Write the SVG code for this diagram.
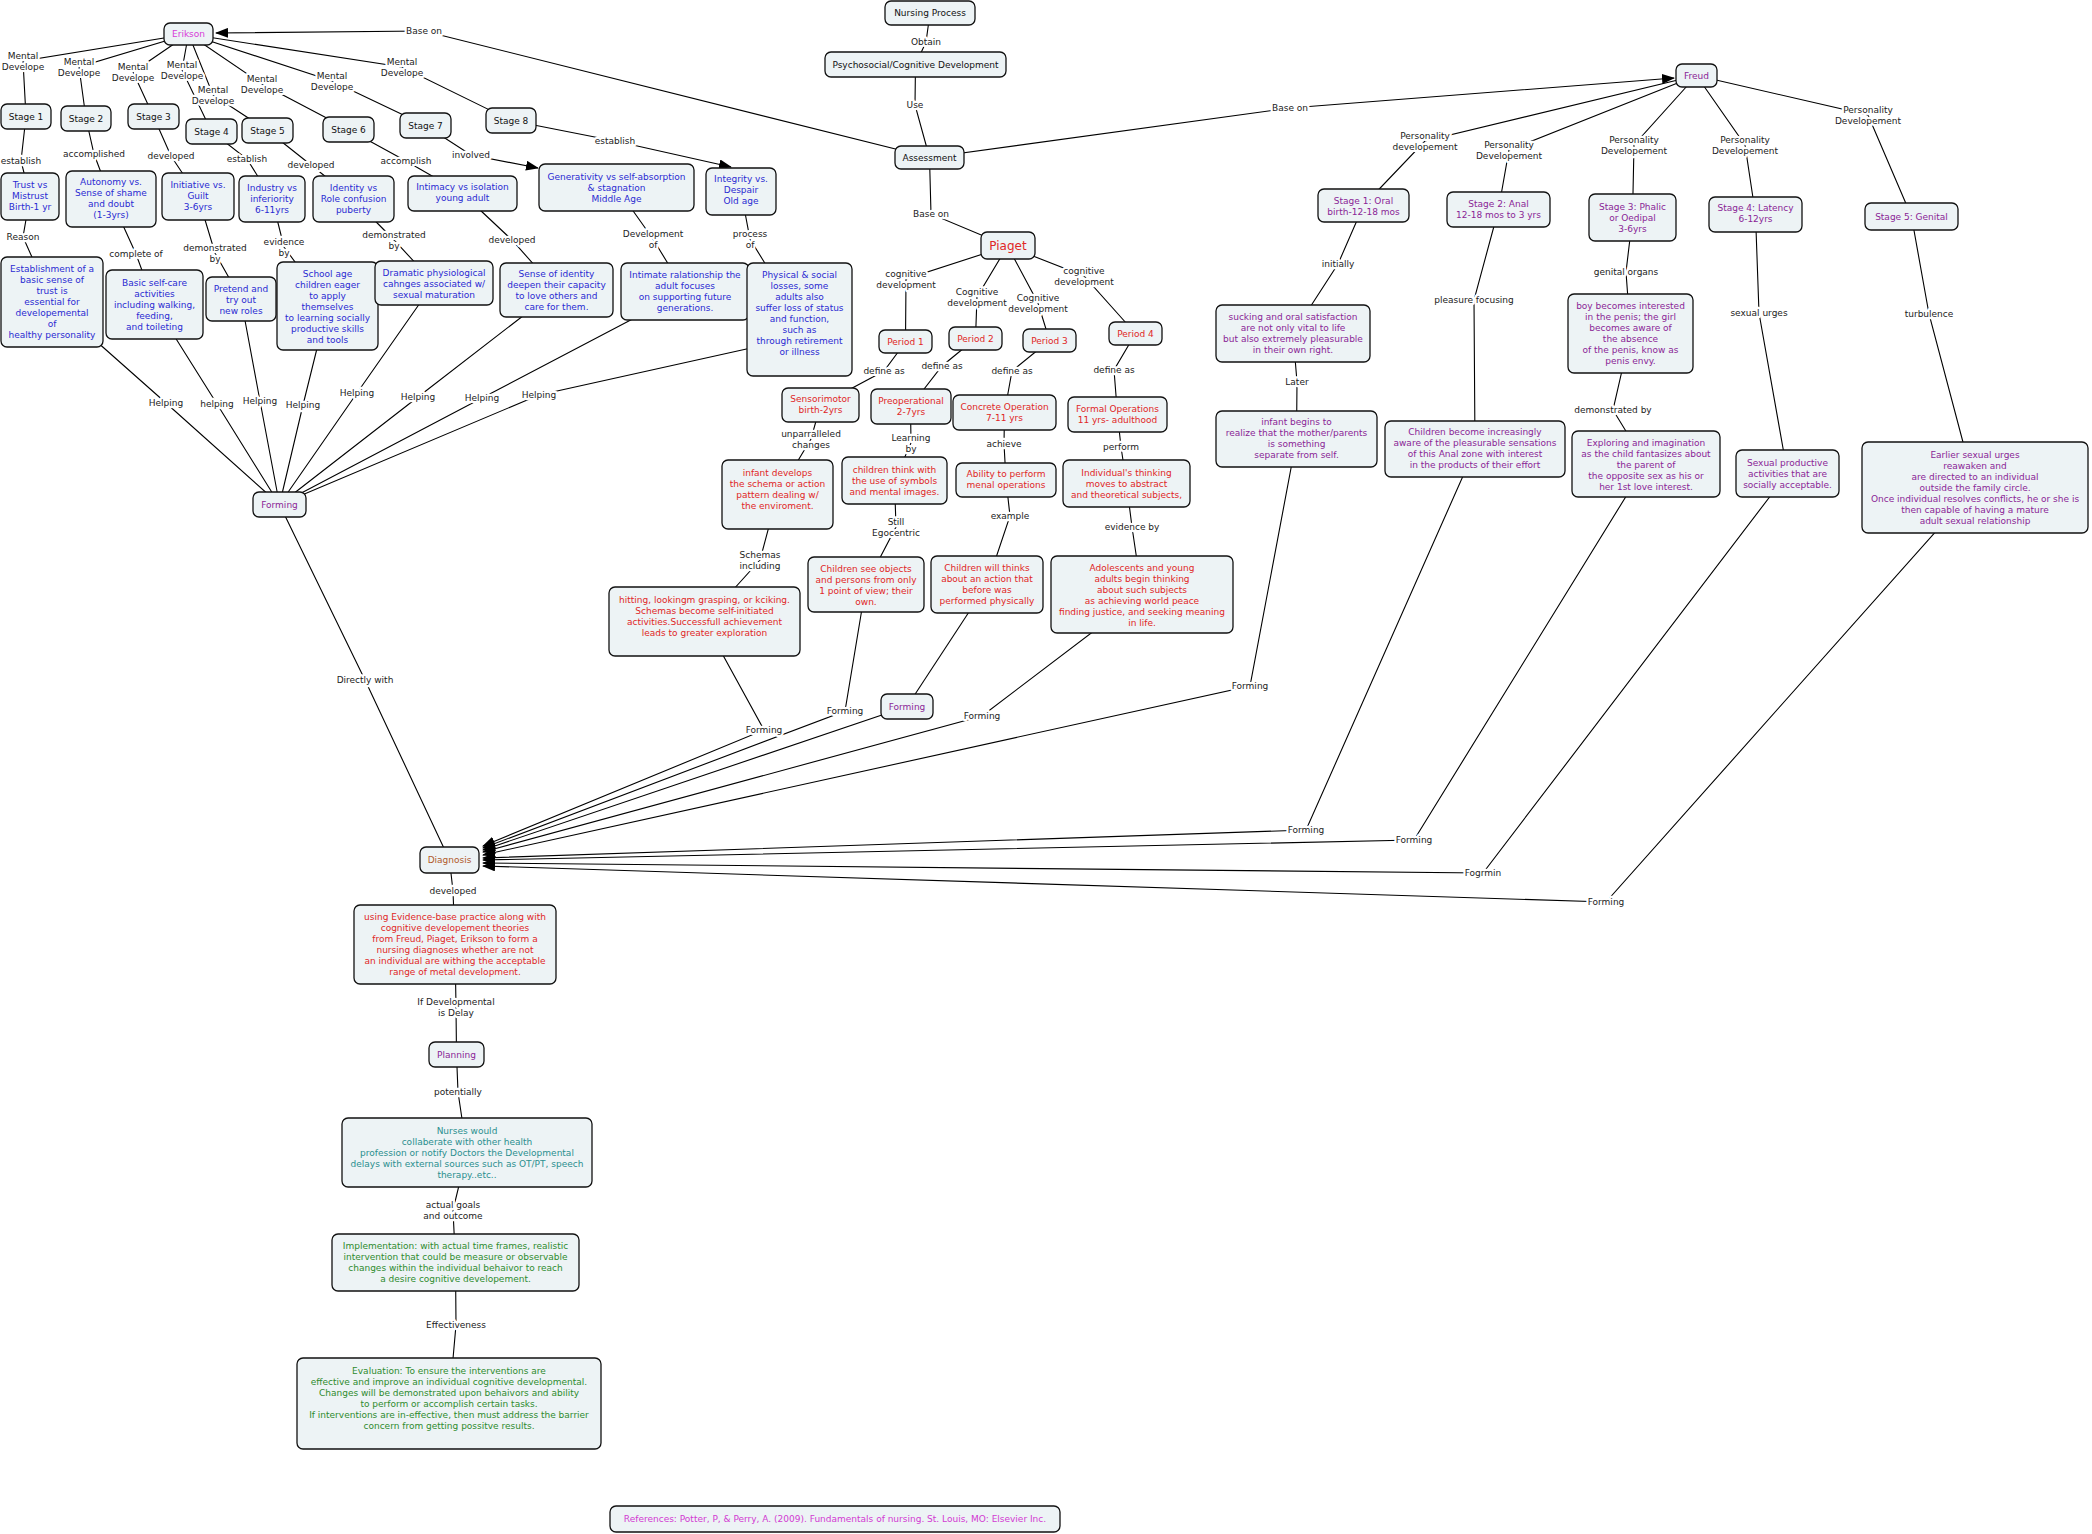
<svg xmlns="http://www.w3.org/2000/svg" width="2092" height="1534" viewBox="0 0 2092 1534">
<defs>
<style>
.c polyline{fill:none;stroke:#000;stroke-width:1.1}
.n rect{fill:#edf3f5;stroke:#111;stroke-width:1.3}
text{font-family:"DejaVu Sans",Verdana,"Liberation Sans",sans-serif;font-size:9px;text-anchor:middle}
.lb text{fill:#222;stroke:#fff;stroke-width:4.5;stroke-linejoin:round;paint-order:stroke}
.k{fill:#111}.er{fill:#d83ad8}.eb{fill:#2a2ad2}.pr{fill:#e02626}.fp{fill:#8a2596}.br{fill:#b05a2a}.tl{fill:#2b8f8f}.gr{fill:#2e8b2e}.mg{fill:#d23ad2}
</style>
<marker id="ah" markerWidth="13" markerHeight="10" refX="12" refY="5" orient="auto" markerUnits="userSpaceOnUse"><path d="M0,0 L13,5 L0,10 z" fill="#000"/></marker>
</defs>
<rect width="2092" height="1534" fill="#fff"/>
<g id="connectors" class="c">
<polyline points="188.5,34 23,61 26,116.5"/>
<polyline points="188.5,34 79,67 86,118.5"/>
<polyline points="188.5,34 133,72 153.5,116.5"/>
<polyline points="188.5,34 182,70 211.5,131.5"/>
<polyline points="188.5,34 213,95 267.5,130.5"/>
<polyline points="188.5,34 262,84 348.5,129.5"/>
<polyline points="188.5,34 332,81 425.5,125.5"/>
<polyline points="188.5,34 402,67 511,120.5"/>
<polyline points="26,116.5 21,161 30,196.5"/>
<polyline points="86,118.5 94,154 111,199"/>
<polyline points="153.5,116.5 171,156 198,196.5"/>
<polyline points="211.5,131.5 247,159 272,199"/>
<polyline points="267.5,130.5 311,165 353.5,199"/>
<polyline points="348.5,129.5 406,161 462.5,193.5"/>
<polyline points="425.5,125.5 471,155 538,168" marker-end="url(#ah)"/>
<polyline points="511,120.5 615,141 731,167" marker-end="url(#ah)"/>
<polyline points="30,196.5 23,237 52,302"/>
<polyline points="111,199 136,254 154.5,304.5"/>
<polyline points="198,196.5 215,253 241,299"/>
<polyline points="272,199 284,247 327.5,306"/>
<polyline points="353.5,199 394,240 434,283"/>
<polyline points="462.5,193.5 512,240 556.5,290"/>
<polyline points="616.5,187.5 653,239 685,291.5"/>
<polyline points="741,191.5 750,239 799.5,319.5"/>
<polyline points="52,302 166,403 279.5,504.5"/>
<polyline points="154.5,304.5 217,404 279.5,504.5"/>
<polyline points="241,299 260,401 279.5,504.5"/>
<polyline points="327.5,306 303,405 279.5,504.5"/>
<polyline points="434,283 357,393 279.5,504.5"/>
<polyline points="556.5,290 418,397 279.5,504.5"/>
<polyline points="685,291.5 482,398 279.5,504.5"/>
<polyline points="760,346 539,395 279.5,504.5"/>
<polyline points="279.5,504.5 365,680 449.5,860"/>
<polyline points="930,13 926,42 915.5,64.5"/>
<polyline points="915.5,64.5 915,105 929.5,157.5"/>
<polyline points="929.5,157.5 424,31 216,33" marker-end="url(#ah)"/>
<polyline points="929.5,157.5 1290,108 1674,78" marker-end="url(#ah)"/>
<polyline points="929.5,157.5 931,214 1007.5,246"/>
<polyline points="1007.5,246 906,279 905.5,342"/>
<polyline points="1007.5,246 977,297 975.5,338.5"/>
<polyline points="1007.5,246 1038,303 1049.5,340.5"/>
<polyline points="1007.5,246 1084,276 1135.5,333.5"/>
<polyline points="905.5,342 884,371 820.5,405"/>
<polyline points="975.5,338.5 942,366 910.5,406.5"/>
<polyline points="1049.5,340.5 1012,371 1004.5,412.5"/>
<polyline points="1135.5,333.5 1114,370 1117.5,414.5"/>
<polyline points="820.5,405 811,439 777.5,494.5"/>
<polyline points="910.5,406.5 911,443 894.5,480.5"/>
<polyline points="1004.5,412.5 1004,444 1006,480"/>
<polyline points="1117.5,414.5 1121,447 1126.5,483.5"/>
<polyline points="777.5,494.5 760,560 704.5,621.5"/>
<polyline points="894.5,480.5 896,527 866,584.5"/>
<polyline points="1006,480 1010,516 987,584.5"/>
<polyline points="1126.5,483.5 1132,527 1142,594.5"/>
<polyline points="704.5,621.5 764,730 483,846" marker-end="url(#ah)"/>
<polyline points="866,584.5 845,711 483,848" marker-end="url(#ah)"/>
<polyline points="987,584.5 907,706.5"/>
<polyline points="907,706.5 483,850" marker-end="url(#ah)"/>
<polyline points="1142,594.5 982,716 483,852" marker-end="url(#ah)"/>
<polyline points="1696.5,75.5 1425,141 1363.5,205.5"/>
<polyline points="1696.5,75.5 1509,150 1498.5,209.5"/>
<polyline points="1696.5,75.5 1634,145 1632.5,217.5"/>
<polyline points="1696.5,75.5 1745,145 1755.5,214.5"/>
<polyline points="1696.5,75.5 1868,115 1911.5,216.5"/>
<polyline points="1363.5,205.5 1338,264 1293,333.5"/>
<polyline points="1293,333.5 1297,382 1296.5,439"/>
<polyline points="1498.5,209.5 1474,300 1475,449"/>
<polyline points="1632.5,217.5 1626,272 1630.5,333.5"/>
<polyline points="1630.5,333.5 1613,410 1646,464"/>
<polyline points="1755.5,214.5 1759,313 1787.5,473.5"/>
<polyline points="1911.5,216.5 1929,314 1975,487.5"/>
<polyline points="1296.5,439 1250,686 483,855" marker-end="url(#ah)"/>
<polyline points="1475,449 1306,830 483,858" marker-end="url(#ah)"/>
<polyline points="1646,464 1414,840 483,860" marker-end="url(#ah)"/>
<polyline points="1787.5,473.5 1483,873 483,863" marker-end="url(#ah)"/>
<polyline points="1975,487.5 1606,902 483,866" marker-end="url(#ah)"/>
<polyline points="449.5,860 453,891 455,944.5"/>
<polyline points="455,944.5 456,1007 456.5,1054.5"/>
<polyline points="456.5,1054.5 458,1092 467,1152.5"/>
<polyline points="467,1152.5 453,1210 455.5,1262.5"/>
<polyline points="455.5,1262.5 456,1325 449,1403.5"/>
</g>
<g id="labels" class="lb">
<text x="23" y="58.5">Mental<tspan x="23" dy="11">Develope</tspan></text>
<text x="79" y="64.5">Mental<tspan x="79" dy="11">Develope</tspan></text>
<text x="133" y="69.5">Mental<tspan x="133" dy="11">Develope</tspan></text>
<text x="182" y="67.5">Mental<tspan x="182" dy="11">Develope</tspan></text>
<text x="213" y="92.5">Mental<tspan x="213" dy="11">Develope</tspan></text>
<text x="262" y="81.5">Mental<tspan x="262" dy="11">Develope</tspan></text>
<text x="332" y="78.5">Mental<tspan x="332" dy="11">Develope</tspan></text>
<text x="402" y="64.5">Mental<tspan x="402" dy="11">Develope</tspan></text>
<text x="21" y="164">establish</text>
<text x="94" y="157">accomplished</text>
<text x="171" y="159">developed</text>
<text x="247" y="162">establish</text>
<text x="311" y="168">developed</text>
<text x="406" y="164">accomplish</text>
<text x="471" y="158">involved</text>
<text x="615" y="144">establish</text>
<text x="23" y="240">Reason</text>
<text x="136" y="257">complete of</text>
<text x="215" y="250.5">demonstrated<tspan x="215" dy="11">by</tspan></text>
<text x="284" y="244.5">evidence<tspan x="284" dy="11">by</tspan></text>
<text x="394" y="237.5">demonstrated<tspan x="394" dy="11">by</tspan></text>
<text x="512" y="243">developed</text>
<text x="653" y="236.5">Development<tspan x="653" dy="11">of</tspan></text>
<text x="750" y="236.5">process<tspan x="750" dy="11">of</tspan></text>
<text x="166" y="406">Helping</text>
<text x="217" y="407">helping</text>
<text x="260" y="404">Helping</text>
<text x="303" y="408">Helping</text>
<text x="357" y="396">Helping</text>
<text x="418" y="400">Helping</text>
<text x="482" y="401">Helping</text>
<text x="539" y="398">Helping</text>
<text x="365" y="683">Directly with</text>
<text x="926" y="45">Obtain</text>
<text x="915" y="108">Use</text>
<text x="424" y="34">Base on</text>
<text x="1290" y="111">Base on</text>
<text x="931" y="217">Base on</text>
<text x="906" y="276.5">cognitive<tspan x="906" dy="11">development</tspan></text>
<text x="977" y="294.5">Cognitive<tspan x="977" dy="11">development</tspan></text>
<text x="1038" y="300.5">Cognitive<tspan x="1038" dy="11">development</tspan></text>
<text x="1084" y="273.5">cognitive<tspan x="1084" dy="11">development</tspan></text>
<text x="884" y="374">define as</text>
<text x="942" y="369">define as</text>
<text x="1012" y="374">define as</text>
<text x="1114" y="373">define as</text>
<text x="811" y="436.5">unparralleled<tspan x="811" dy="11">changes</tspan></text>
<text x="911" y="440.5">Learning<tspan x="911" dy="11">by</tspan></text>
<text x="1004" y="447">achieve</text>
<text x="1121" y="450">perform</text>
<text x="760" y="557.5">Schemas<tspan x="760" dy="11">including</tspan></text>
<text x="896" y="524.5">Still<tspan x="896" dy="11">Egocentric</tspan></text>
<text x="1010" y="519">example</text>
<text x="1132" y="530">evidence by</text>
<text x="764" y="733">Forming</text>
<text x="845" y="714">Forming</text>
<text x="982" y="719">Forming</text>
<text x="1425" y="138.5">Personality<tspan x="1425" dy="11">developement</tspan></text>
<text x="1509" y="147.5">Personality<tspan x="1509" dy="11">Developement</tspan></text>
<text x="1634" y="142.5">Personality<tspan x="1634" dy="11">Developement</tspan></text>
<text x="1745" y="142.5">Personality<tspan x="1745" dy="11">Developement</tspan></text>
<text x="1868" y="112.5">Personality<tspan x="1868" dy="11">Developement</tspan></text>
<text x="1338" y="267">initially</text>
<text x="1297" y="385">Later</text>
<text x="1474" y="303">pleasure focusing</text>
<text x="1626" y="275">genital organs</text>
<text x="1613" y="413">demonstrated by</text>
<text x="1759" y="316">sexual urges</text>
<text x="1929" y="317">turbulence</text>
<text x="1250" y="689">Forming</text>
<text x="1306" y="833">Forming</text>
<text x="1414" y="843">Forming</text>
<text x="1483" y="876">Fogrmin</text>
<text x="1606" y="905">Forming</text>
<text x="453" y="894">developed</text>
<text x="456" y="1004.5">If Developmental<tspan x="456" dy="11">is Delay</tspan></text>
<text x="458" y="1095">potentially</text>
<text x="453" y="1207.5">actual goals<tspan x="453" dy="11">and outcome</tspan></text>
<text x="456" y="1328">Effectiveness</text>
</g>
<g class="n">
<g id="erikson"><rect x="164" y="23" width="49" height="22" rx="6"/><text class="er" x="188.5" y="37">Erikson</text></g>
<g id="stage1"><rect x="1" y="104" width="50" height="25" rx="6"/><text class="k" x="26" y="119.5">Stage 1</text></g>
<g id="stage2"><rect x="61" y="106" width="50" height="25" rx="6"/><text class="k" x="86" y="121.5">Stage 2</text></g>
<g id="stage3"><rect x="128" y="104" width="51" height="25" rx="6"/><text class="k" x="153.5" y="119.5">Stage 3</text></g>
<g id="stage4"><rect x="186" y="119" width="51" height="25" rx="6"/><text class="k" x="211.5" y="134.5">Stage 4</text></g>
<g id="stage5"><rect x="242" y="118" width="51" height="25" rx="6"/><text class="k" x="267.5" y="133.5">Stage 5</text></g>
<g id="stage6"><rect x="323" y="117" width="51" height="25" rx="6"/><text class="k" x="348.5" y="132.5">Stage 6</text></g>
<g id="stage7"><rect x="400" y="113" width="51" height="25" rx="6"/><text class="k" x="425.5" y="128.5">Stage 7</text></g>
<g id="stage8"><rect x="486" y="108" width="50" height="25" rx="6"/><text class="k" x="511" y="123.5">Stage 8</text></g>
<g id="trust"><rect x="1" y="173" width="58" height="47" rx="6"/><text class="eb" x="30" y="188">Trust vs<tspan x="30" dy="11">Mistrust</tspan><tspan x="30" dy="11">Birth-1 yr</tspan></text></g>
<g id="autonomy"><rect x="66" y="171" width="90" height="56" rx="6"/><text class="eb" x="111" y="185">Autonomy vs.<tspan x="111" dy="11">Sense of shame</tspan><tspan x="111" dy="11">and doubt</tspan><tspan x="111" dy="11">(1-3yrs)</tspan></text></g>
<g id="initiative"><rect x="162" y="173" width="72" height="47" rx="6"/><text class="eb" x="198" y="188">Initiative vs.<tspan x="198" dy="11">Guilt</tspan><tspan x="198" dy="11">3-6yrs</tspan></text></g>
<g id="industry"><rect x="239" y="176" width="66" height="46" rx="6"/><text class="eb" x="272" y="191">Industry vs<tspan x="272" dy="11">inferiority</tspan><tspan x="272" dy="11">6-11yrs</tspan></text></g>
<g id="identity"><rect x="313" y="176" width="81" height="46" rx="6"/><text class="eb" x="353.5" y="191">Identity vs<tspan x="353.5" dy="11">Role confusion</tspan><tspan x="353.5" dy="11">puberty</tspan></text></g>
<g id="intimacy"><rect x="408" y="176" width="109" height="35" rx="6"/><text class="eb" x="462.5" y="190">Intimacy vs isolation<tspan x="462.5" dy="11">young adult</tspan></text></g>
<g id="generativity"><rect x="539" y="164" width="155" height="47" rx="6"/><text class="eb" x="616.5" y="180">Generativity vs self-absorption<tspan x="616.5" dy="11">&amp; stagnation</tspan><tspan x="616.5" dy="11">Middle Age</tspan></text></g>
<g id="integrity"><rect x="706" y="168" width="70" height="47" rx="6"/><text class="eb" x="741" y="182">Integrity vs.<tspan x="741" dy="11">Despair</tspan><tspan x="741" dy="11">Old age</tspan></text></g>
<g id="establishment"><rect x="1" y="257" width="102" height="90" rx="6"/><text class="eb" x="52" y="272">Establishment of a<tspan x="52" dy="11">basic sense of</tspan><tspan x="52" dy="11">trust is</tspan><tspan x="52" dy="11">essential for</tspan><tspan x="52" dy="11">developemental</tspan><tspan x="52" dy="11">of</tspan><tspan x="52" dy="11">healthy personality</tspan></text></g>
<g id="selfcare"><rect x="106" y="270" width="97" height="69" rx="6"/><text class="eb" x="154.5" y="286">Basic self-care<tspan x="154.5" dy="11">activities</tspan><tspan x="154.5" dy="11">including walking,</tspan><tspan x="154.5" dy="11">feeding,</tspan><tspan x="154.5" dy="11">and toileting</tspan></text></g>
<g id="pretend"><rect x="206" y="277" width="70" height="44" rx="6"/><text class="eb" x="241" y="292">Pretend and<tspan x="241" dy="11">try out</tspan><tspan x="241" dy="11">new roles</tspan></text></g>
<g id="schoolage"><rect x="277" y="262" width="101" height="88" rx="6"/><text class="eb" x="327.5" y="277">School age<tspan x="327.5" dy="11">children eager</tspan><tspan x="327.5" dy="11">to apply</tspan><tspan x="327.5" dy="11">themselves</tspan><tspan x="327.5" dy="11">to learning socially</tspan><tspan x="327.5" dy="11">productive skills</tspan><tspan x="327.5" dy="11">and tools</tspan></text></g>
<g id="dramatic"><rect x="375" y="261" width="118" height="44" rx="6"/><text class="eb" x="434" y="276">Dramatic physiological<tspan x="434" dy="11">cahnges associated w/</tspan><tspan x="434" dy="11">sexual maturation</tspan></text></g>
<g id="senseidentity"><rect x="500" y="263" width="113" height="54" rx="6"/><text class="eb" x="556.5" y="277">Sense of identity<tspan x="556.5" dy="11">deepen their capacity</tspan><tspan x="556.5" dy="11">to love others and</tspan><tspan x="556.5" dy="11">care for them.</tspan></text></g>
<g id="intimate"><rect x="621" y="263" width="128" height="57" rx="6"/><text class="eb" x="685" y="278">Intimate ralationship the<tspan x="685" dy="11">adult focuses</tspan><tspan x="685" dy="11">on supporting future</tspan><tspan x="685" dy="11">generations.</tspan></text></g>
<g id="physical"><rect x="747" y="263" width="105" height="113" rx="6"/><text class="eb" x="799.5" y="278">Physical &amp; social<tspan x="799.5" dy="11">losses, some</tspan><tspan x="799.5" dy="11">adults also</tspan><tspan x="799.5" dy="11">suffer loss of status</tspan><tspan x="799.5" dy="11">and function,</tspan><tspan x="799.5" dy="11">such as</tspan><tspan x="799.5" dy="11">through retirement</tspan><tspan x="799.5" dy="11">or illness</tspan></text></g>
<g id="forming-erikson"><rect x="253" y="492" width="53" height="25" rx="6"/><text class="fp" x="279.5" y="507.5">Forming</text></g>
<g id="nursing"><rect x="885" y="1" width="90" height="24" rx="6"/><text class="k" x="930" y="16">Nursing Process</text></g>
<g id="psychosocial"><rect x="825" y="52" width="181" height="25" rx="6"/><text class="k" x="915.5" y="67.5">Psychosocial/Cognitive Development</text></g>
<g id="assessment"><rect x="895" y="146" width="69" height="23" rx="6"/><text class="k" x="929.5" y="160.5">Assessment</text></g>
<g id="piaget"><rect x="981" y="232" width="54" height="27" rx="6"/><text class="pr" x="1008" y="250" style="font-size:12px">Piaget</text></g>
<g id="period1"><rect x="879" y="330" width="53" height="23" rx="6"/><text class="pr" x="905.5" y="344.5">Period 1</text></g>
<g id="period2"><rect x="949" y="327" width="53" height="23" rx="6"/><text class="pr" x="975.5" y="341.5">Period 2</text></g>
<g id="period3"><rect x="1023" y="329" width="53" height="23" rx="6"/><text class="pr" x="1049.5" y="343.5">Period 3</text></g>
<g id="period4"><rect x="1109" y="322" width="53" height="23" rx="6"/><text class="pr" x="1135.5" y="336.5">Period 4</text></g>
<g id="sensorimotor"><rect x="782" y="388" width="77" height="34" rx="6"/><text class="pr" x="820.5" y="402">Sensorimotor<tspan x="820.5" dy="11">birth-2yrs</tspan></text></g>
<g id="preoperational"><rect x="871" y="389" width="80" height="35" rx="6"/><text class="pr" x="911" y="404">Preoperational<tspan x="911" dy="11">2-7yrs</tspan></text></g>
<g id="concrete"><rect x="953" y="395" width="103" height="35" rx="6"/><text class="pr" x="1004.5" y="410">Concrete Operation<tspan x="1004.5" dy="11">7-11 yrs</tspan></text></g>
<g id="formal"><rect x="1068" y="397" width="99" height="35" rx="6"/><text class="pr" x="1117.5" y="412">Formal Operations<tspan x="1117.5" dy="11">11 yrs- adulthood</tspan></text></g>
<g id="infantdevelops"><rect x="722" y="460" width="111" height="69" rx="6"/><text class="pr" x="777.5" y="476">infant develops<tspan x="777.5" dy="11">the schema or action</tspan><tspan x="777.5" dy="11">pattern dealing w/</tspan><tspan x="777.5" dy="11">the enviroment.</tspan></text></g>
<g id="childrenthink"><rect x="842" y="457" width="105" height="47" rx="6"/><text class="pr" x="894.5" y="473">children think with<tspan x="894.5" dy="11">the use of symbols</tspan><tspan x="894.5" dy="11">and mental images.</tspan></text></g>
<g id="ability"><rect x="956" y="463" width="100" height="34" rx="6"/><text class="pr" x="1006" y="477">Ability  to perform<tspan x="1006" dy="11">menal operations</tspan></text></g>
<g id="individual"><rect x="1063" y="460" width="127" height="47" rx="6"/><text class="pr" x="1126.5" y="476">Individual's thinking<tspan x="1126.5" dy="11">moves to abstract</tspan><tspan x="1126.5" dy="11">and theoretical subjects,</tspan></text></g>
<g id="hitting"><rect x="609" y="587" width="191" height="69" rx="6"/><text class="pr" x="704.5" y="603">hitting, lookingm grasping, or kciking.<tspan x="704.5" dy="11">Schemas become self-initiated</tspan><tspan x="704.5" dy="11">activities.Successfull achievement</tspan><tspan x="704.5" dy="11">leads to greater exploration</tspan></text></g>
<g id="childrensee"><rect x="808" y="557" width="116" height="55" rx="6"/><text class="pr" x="866" y="572">Children see objects<tspan x="866" dy="11">and persons from only</tspan><tspan x="866" dy="11">1 point of view; their</tspan><tspan x="866" dy="11">own.</tspan></text></g>
<g id="childrenwill"><rect x="931" y="556" width="112" height="57" rx="6"/><text class="pr" x="987" y="571">Children will thinks<tspan x="987" dy="11">about an action that</tspan><tspan x="987" dy="11">before was</tspan><tspan x="987" dy="11">performed physically</tspan></text></g>
<g id="adolescents"><rect x="1051" y="556" width="182" height="77" rx="6"/><text class="pr" x="1142" y="571">Adolescents and young<tspan x="1142" dy="11">adults begin thinking</tspan><tspan x="1142" dy="11">about such subjects</tspan><tspan x="1142" dy="11">as achieving world peace</tspan><tspan x="1142" dy="11">finding justice, and seeking meaning</tspan><tspan x="1142" dy="11">in life.</tspan></text></g>
<g id="forming-piaget"><rect x="881" y="694" width="52" height="25" rx="6"/><text class="fp" x="907" y="709.5">Forming</text></g>
<g id="freud"><rect x="1676" y="64" width="41" height="23" rx="6"/><text class="fp" x="1696.5" y="78.5">Freud</text></g>
<g id="oral"><rect x="1318" y="189" width="91" height="33" rx="6"/><text class="fp" x="1363.5" y="204">Stage 1: Oral<tspan x="1363.5" dy="11">birth-12-18 mos</tspan></text></g>
<g id="anal"><rect x="1447" y="192" width="103" height="35" rx="6"/><text class="fp" x="1498.5" y="207">Stage 2: Anal<tspan x="1498.5" dy="11">12-18 mos to 3 yrs</tspan></text></g>
<g id="phalic"><rect x="1589" y="194" width="87" height="47" rx="6"/><text class="fp" x="1632.5" y="210">Stage 3: Phalic<tspan x="1632.5" dy="11">or Oedipal</tspan><tspan x="1632.5" dy="11">3-6yrs</tspan></text></g>
<g id="latency"><rect x="1709" y="197" width="93" height="35" rx="6"/><text class="fp" x="1755.5" y="211">Stage 4: Latency<tspan x="1755.5" dy="11">6-12yrs</tspan></text></g>
<g id="genital"><rect x="1865" y="203" width="93" height="27" rx="6"/><text class="fp" x="1911.5" y="219.5">Stage 5: Genital</text></g>
<g id="sucking"><rect x="1216" y="305" width="154" height="57" rx="6"/><text class="fp" x="1293" y="320">sucking and oral satisfaction<tspan x="1293" dy="11">are not only vital to life</tspan><tspan x="1293" dy="11">but also extremely pleasurable</tspan><tspan x="1293" dy="11">in their own right.</tspan></text></g>
<g id="infantbegins"><rect x="1216" y="411" width="161" height="56" rx="6"/><text class="fp" x="1296.5" y="425">infant begins to<tspan x="1296.5" dy="11">realize that the mother/parents</tspan><tspan x="1296.5" dy="11">is something</tspan><tspan x="1296.5" dy="11">separate from self.</tspan></text></g>
<g id="childrenbecome"><rect x="1385" y="421" width="180" height="56" rx="6"/><text class="fp" x="1475" y="435">Children become increasingly<tspan x="1475" dy="11">aware of the pleasurable sensations</tspan><tspan x="1475" dy="11">of this Anal zone with interest</tspan><tspan x="1475" dy="11">in the products of their effort</tspan></text></g>
<g id="boybecomes"><rect x="1568" y="294" width="125" height="79" rx="6"/><text class="fp" x="1630.5" y="309">boy becomes interested<tspan x="1630.5" dy="11">in the penis; the girl</tspan><tspan x="1630.5" dy="11">becomes aware of</tspan><tspan x="1630.5" dy="11">the absence</tspan><tspan x="1630.5" dy="11">of the penis, know as</tspan><tspan x="1630.5" dy="11">penis envy.</tspan></text></g>
<g id="exploring"><rect x="1572" y="431" width="148" height="66" rx="6"/><text class="fp" x="1646" y="446">Exploring and imagination<tspan x="1646" dy="11">as the child fantasizes about</tspan><tspan x="1646" dy="11">the parent of</tspan><tspan x="1646" dy="11">the opposite sex as his or</tspan><tspan x="1646" dy="11">her 1st love interest.</tspan></text></g>
<g id="sexualproductive"><rect x="1736" y="450" width="103" height="47" rx="6"/><text class="fp" x="1787.5" y="466">Sexual productive<tspan x="1787.5" dy="11">activities that are</tspan><tspan x="1787.5" dy="11">socially acceptable.</tspan></text></g>
<g id="earlier"><rect x="1862" y="442" width="226" height="91" rx="6"/><text class="fp" x="1975" y="458">Earlier sexual urges<tspan x="1975" dy="11">reawaken and</tspan><tspan x="1975" dy="11">are directed to an individual</tspan><tspan x="1975" dy="11">outside the family circle.</tspan><tspan x="1975" dy="11">Once individual resolves conflicts, he or she is</tspan><tspan x="1975" dy="11">then capable of having a mature</tspan><tspan x="1975" dy="11">adult sexual relationship</tspan></text></g>
<g id="diagnosis"><rect x="420" y="847" width="59" height="26" rx="6"/><text class="br" x="449.5" y="863">Diagnosis</text></g>
<g id="evidence"><rect x="354" y="905" width="202" height="79" rx="6"/><text class="pr" x="455" y="920">using Evidence-base practice along with<tspan x="455" dy="11">cognitive developement theories</tspan><tspan x="455" dy="11">from Freud, Piaget, Erikson to form a</tspan><tspan x="455" dy="11">nursing diagnoses whether are not</tspan><tspan x="455" dy="11">an individual are withing the acceptable</tspan><tspan x="455" dy="11">range of metal development.</tspan></text></g>
<g id="planning"><rect x="429" y="1042" width="55" height="25" rx="6"/><text class="fp" x="456.5" y="1057.5">Planning</text></g>
<g id="nurses"><rect x="342" y="1118" width="250" height="69" rx="6"/><text class="tl" x="467" y="1134">Nurses would<tspan x="467" dy="11">collaberate with other health</tspan><tspan x="467" dy="11">profession or notify Doctors the Developmental</tspan><tspan x="467" dy="11">delays with external sources such as OT/PT, speech</tspan><tspan x="467" dy="11">therapy..etc..</tspan></text></g>
<g id="implementation"><rect x="332" y="1234" width="247" height="57" rx="6"/><text class="gr" x="455.5" y="1249">Implementation: with actual time frames, realistic<tspan x="455.5" dy="11">intervention that could be measure or observable</tspan><tspan x="455.5" dy="11">changes within the individual behaivor to reach</tspan><tspan x="455.5" dy="11">a desire cognitive developement.</tspan></text></g>
<g id="evaluation"><rect x="297" y="1358" width="304" height="91" rx="6"/><text class="gr" x="449" y="1374">Evaluation: To ensure the interventions are<tspan x="449" dy="11">effective and improve an individual cognitive developmental.</tspan><tspan x="449" dy="11">Changes will be demonstrated upon behaivors and ability</tspan><tspan x="449" dy="11">to perform or accomplish certain tasks.</tspan><tspan x="449" dy="11">If interventions are in-effective, then must address the barrier</tspan><tspan x="449" dy="11">concern from getting possitve results.</tspan></text></g>
<g id="references"><rect x="610" y="1506" width="450" height="26" rx="6"/><text class="mg" x="835" y="1522">References: Potter, P, &amp; Perry, A. (2009). Fundamentals of nursing. St. Louis, MO: Elsevier Inc.</text></g>
</g>
</svg>
